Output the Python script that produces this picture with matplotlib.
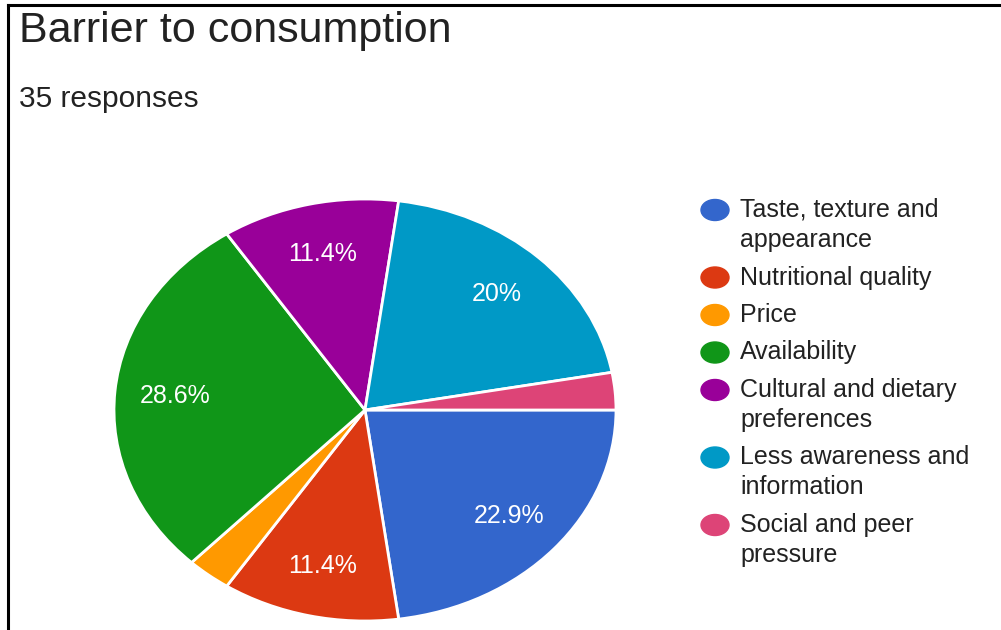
import textwrap
import matplotlib.pyplot as plt
from matplotlib.patches import Ellipse
from matplotlib.lines import Line2D

plt.rcParams['font.family'] = ['Liberation Sans', 'DejaVu Sans']

title = "Barrier to consumption"
subtitle = "35 responses"
categories = ["Taste, texture and appearance", "Nutritional quality", "Price",
              "Availability", "Cultural and dietary preferences",
              "Less awareness and information", "Social and peer pressure"]
counts = [8, 4, 1, 10, 4, 7, 1]
colors = ["#3366CC", "#DC3912", "#FF9900", "#109618", "#990099", "#0099C6", "#DD4477"]

W, H = 1001, 630
fig = plt.figure(figsize=(W / 100, H / 100), dpi=100)

# frame lines along top and left
fig.add_artist(Line2D([8 / W, 8 / W], [0, 1 - 5 / H], color='black', lw=2.2))
fig.add_artist(Line2D([8 / W, 1], [1 - 5 / H, 1 - 5 / H], color='black', lw=2.2))

fig.text(19 / W, 1 - 31 / H, title, fontsize=31, color='#222222', va='center')
fig.text(19 / W, 1 - 99 / H, subtitle, fontsize=21.5, color='#222222', va='center')

# pie (stretched horizontally)
cx, cy, rx, ry = 365, 410, 251, 211
ax = fig.add_axes([(cx - rx) / W, (H - cy - ry) / H, 2 * rx / W, 2 * ry / H])


def pct_label(p):
    return f"{p:.1f}%".replace(".0%", "%") if p >= 5 else ""


wedges, texts, autotexts = ax.pie(counts, colors=colors, startangle=0, counterclock=False,
                                  autopct=pct_label, pctdistance=0.76,
                                  wedgeprops=dict(edgecolor='white', linewidth=2),
                                  textprops=dict(color='white', fontsize=18))
ax.set_aspect('auto')
ax.set_xlim(-1.0, 1.0)
ax.set_ylim(-1.0, 1.0)
for w in wedges:
    w.set_clip_on(False)

# legend
y = 210
for label, c in zip(categories, colors):
    lines = textwrap.wrap(label, 20)
    fig.add_artist(Ellipse((715 / W, 1 - y / H), 28 / W, 21 / H, color=c,
                           transform=fig.transFigure))
    for i, ln in enumerate(lines):
        fig.text(740 / W, 1 - (y + 30 * i) / H, ln, fontsize=18, color='#222222',
                 va='center')
    y += 30 * (len(lines) - 1) + 37.5

fig.savefig('out.png', dpi=100, facecolor='white')
